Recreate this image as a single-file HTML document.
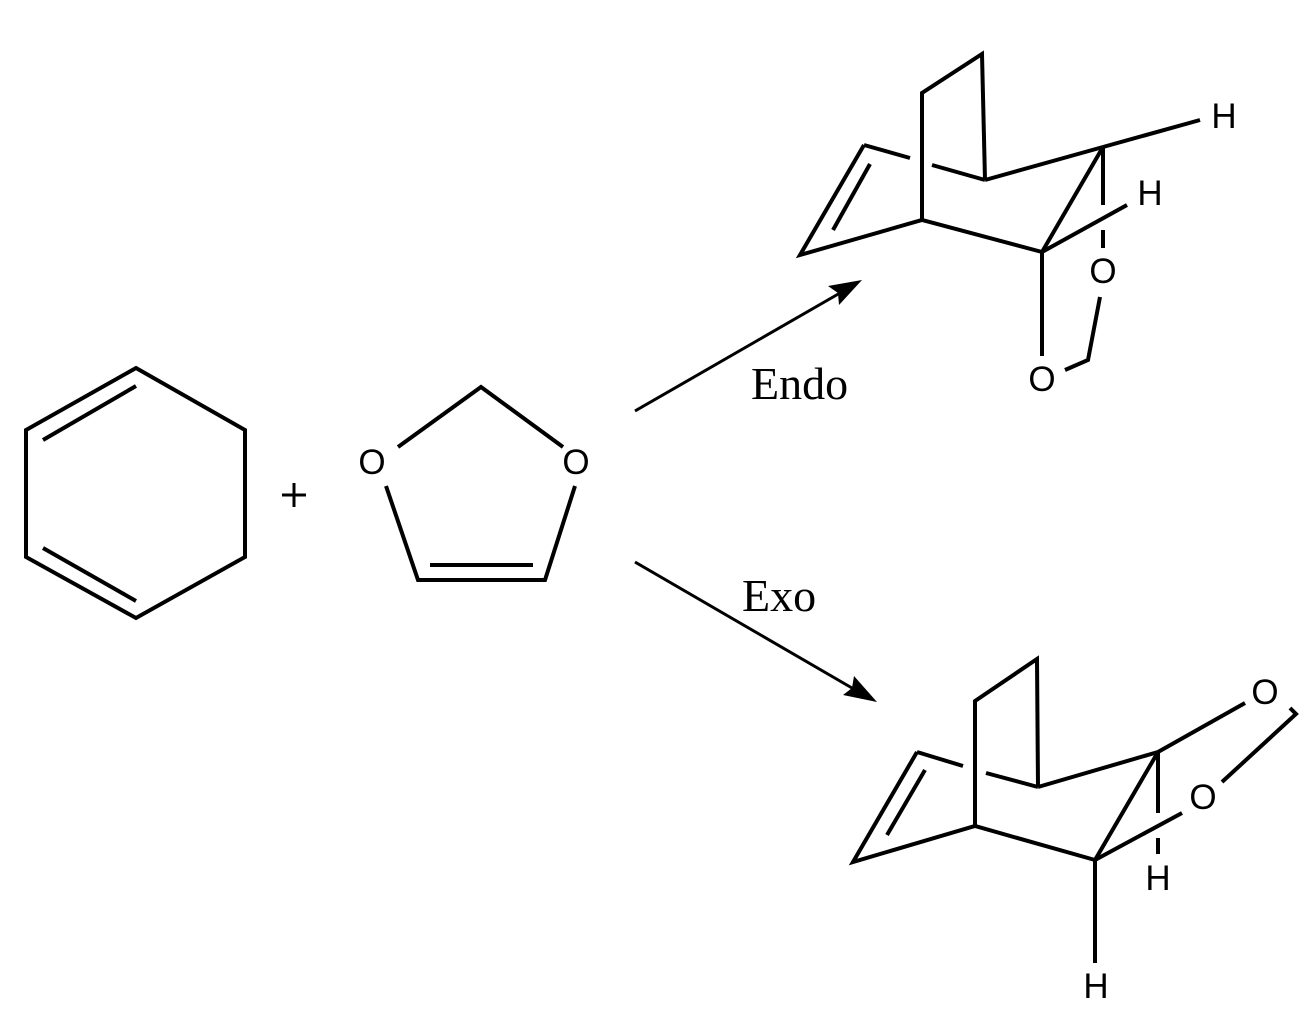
<!DOCTYPE html>
<html><head><meta charset="utf-8"><style>html,body{margin:0;padding:0;background:#fff}svg{display:block}</style></head>
<body>
<svg width="1314" height="1012" viewBox="0 0 1314 1012" xmlns="http://www.w3.org/2000/svg">
<g stroke="#000" stroke-width="4" fill="none" stroke-linejoin="miter" stroke-linecap="butt">
<!-- cyclohexadiene -->
<polygon points="136,368 245,430 245,557 136,618 26,557 26,430"/>
<line x1="43" y1="440" x2="136" y2="386"/>
<line x1="43" y1="548" x2="136" y2="601"/>
<!-- plus -->
<line x1="282" y1="495" x2="306" y2="495" stroke-width="3"/>
<line x1="294" y1="483" x2="294" y2="507" stroke-width="3"/>
<!-- dioxole -->
<polyline points="398,447 481,387 563,447"/>
<polyline points="386,486 418,580 545,580 575,486"/>
<line x1="430" y1="565" x2="533" y2="565"/>
<!-- arrows -->
<line x1="635" y1="411" x2="840" y2="293" stroke-width="3"/>
<line x1="635" y1="562" x2="852" y2="688" stroke-width="3"/>
<!-- top product -->
<polyline points="922,220 922,93 982,54 985,180"/>
<line x1="864" y1="145" x2="910" y2="158"/>
<line x1="932" y1="165" x2="985" y2="180"/>
<polyline points="864,145 800,255 922,220 1042,252"/>
<line x1="870" y1="164" x2="833" y2="230"/>
<line x1="985" y1="180" x2="1103" y2="147"/>
<line x1="1103" y1="147" x2="1200" y2="120"/>
<line x1="1103" y1="147" x2="1042" y2="252"/>
<line x1="1103" y1="147" x2="1103" y2="205"/>
<line x1="1103" y1="230" x2="1103" y2="248"/>
<line x1="1042" y1="252" x2="1127" y2="205"/>
<line x1="1042" y1="252" x2="1042" y2="356"/>
<polyline points="1100,297 1088,360 1065,370"/>
<!-- bottom product -->
<polyline points="975,825 975,701 1037,659 1038,787"/>
<line x1="917" y1="752" x2="963" y2="766"/>
<line x1="986" y1="773" x2="1038" y2="787"/>
<polyline points="917,752 853,862 975,826 1095,860"/>
<line x1="925" y1="770" x2="887" y2="835"/>
<line x1="1038" y1="787" x2="1158" y2="752"/>
<line x1="1158" y1="752" x2="1245" y2="703"/>
<polyline points="1290,708 1296,714 1222,782"/>
<line x1="1158" y1="752" x2="1095" y2="860"/>
<line x1="1158" y1="752" x2="1158" y2="813"/>
<line x1="1158" y1="838" x2="1158" y2="854"/>
<line x1="1095" y1="860" x2="1182" y2="813"/>
<line x1="1095" y1="860" x2="1095" y2="963"/>
</g>
<polygon points="862,280 828,286 838,293 839,305" fill="#000"/>
<polygon points="877,702 854,676 852,688 843,695" fill="#000"/>
<g font-family="Liberation Sans, sans-serif" font-size="35" text-anchor="middle" fill="#000">
<text x="372" y="474">O</text>
<text x="576" y="474">O</text>
<text x="1224" y="128">H</text>
<text x="1150" y="205">H</text>
<text x="1103" y="283">O</text>
<text x="1042" y="391">O</text>
<text x="1265" y="704">O</text>
<text x="1203" y="809">O</text>
<text x="1158" y="890">H</text>
<text x="1096" y="998">H</text>
</g>
<g font-family="Liberation Serif, serif" font-size="46" fill="#000">
<text x="751" y="399">Endo</text>
<text x="742" y="611">Exo</text>
</g>
</svg>
</body></html>
